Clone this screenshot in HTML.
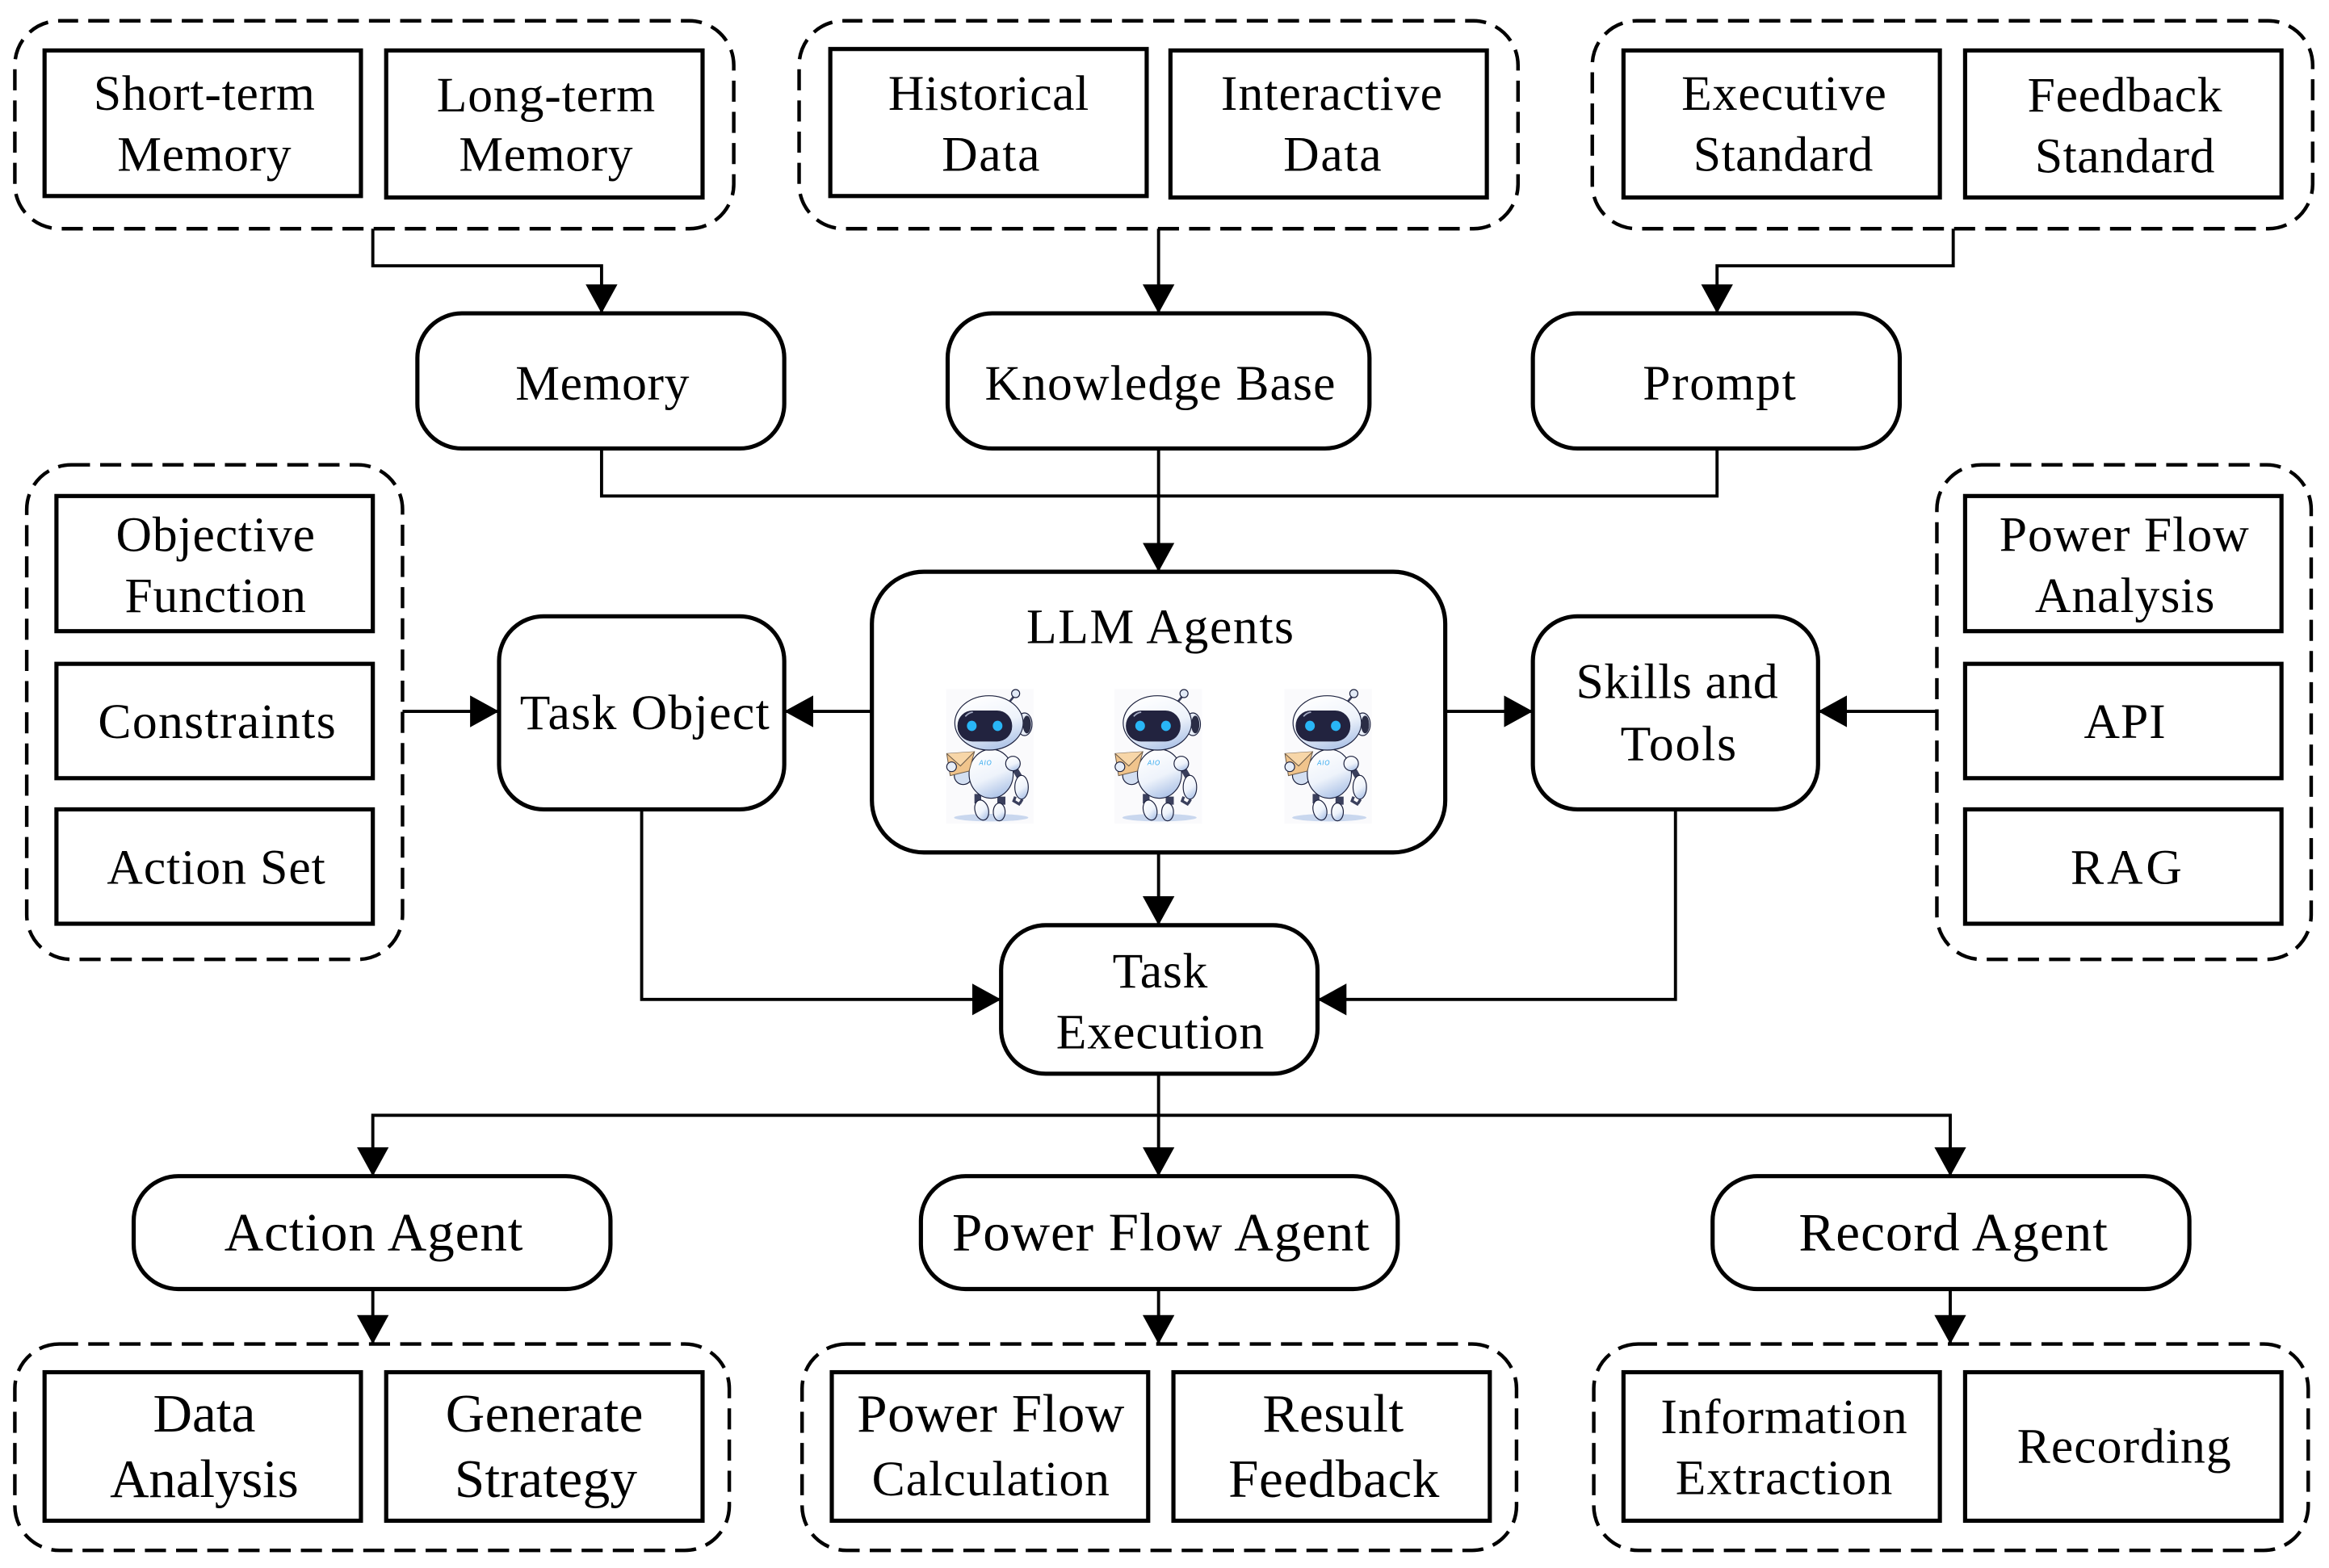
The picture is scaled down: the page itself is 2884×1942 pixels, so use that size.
<!DOCTYPE html>
<html lang="en"><head><meta charset="utf-8"><title>LLM Agents diagram</title>
<style>
html,body{margin:0;padding:0;background:#fff}
svg{display:block}
text{font-family:"Liberation Serif",serif;fill:#000;font-size:33.5px}
.b text,text.b{font-size:36.5px}
.box{fill:#fff;stroke:#000;stroke-width:2.8}
.dash{fill:none;stroke:#000;stroke-width:2.4;stroke-dasharray:14.2 6.8;stroke-dashoffset:1.6}
.ln{fill:none;stroke:#000;stroke-width:2.1}
.k{stroke:#1a1f3c;stroke-width:3.5}
.aio{font:italic 24px "Liberation Sans",sans-serif;fill:#2aa5ee}
</style></head><body>
<svg xmlns="http://www.w3.org/2000/svg" width="2884" height="1942" viewBox="0 0 2884 1942">
<defs>
<marker id="a" markerUnits="userSpaceOnUse" markerWidth="22" markerHeight="22" refX="19.5" refY="10.7" orient="auto"><path d="M0 0L19.5 10.7L0 21.4z" fill="#000"/></marker>
<linearGradient id="g" x1="0.3" y1="0" x2="0.7" y2="1"><stop offset="0" stop-color="#fff"/><stop offset=".55" stop-color="#eef3fb"/><stop offset="1" stop-color="#a9c0e6"/></linearGradient>
<g id="robot">
<rect x="65" y="40" width="325" height="500" fill="#fafafc"/>
<ellipse cx="232" cy="518" rx="138" ry="14" fill="#c9d7ee"/>
<path d="M298 90L318 66" stroke="#3a3f5c" stroke-width="8"/>
<circle cx="323" cy="57" r="15" fill="#e2eaf6" class="k"/>
<ellipse cx="128" cy="362" rx="33" ry="33" fill="#d3dff2" class="k"/>
<path d="M170 430h25v35h-25zM255 440h30v30h-30z" fill="#3a3f5c"/>
<ellipse cx="197" cy="490" rx="25" ry="38" transform="rotate(-15 197 490)" fill="url(#g)" class="k"/>
<ellipse cx="262" cy="497" rx="22" ry="33" fill="url(#g)" class="k"/>
<path d="M322 340L345 380" stroke="#3a3f5c" stroke-width="22"/>
<ellipse cx="345" cy="405" rx="25" ry="44" fill="url(#g)" class="k"/>
<path d="M322 440L316 456L340 470M348 450L338 466" stroke="#3a3f5c" stroke-width="10" fill="none"/>
<rect x="208" y="258" width="40" height="22" rx="6" fill="#2a2d45"/>
<ellipse cx="232" cy="355" rx="82" ry="91" fill="url(#g)" class="k"/>
<path d="M67 280L170 273L150 345L80 362z" fill="#f0c48c" stroke="#6b5a48" stroke-width="3"/>
<path d="M67 280L118 326L170 273" fill="#f7d6a8" stroke="#6b5a48" stroke-width="3"/>
<circle cx="85" cy="329" r="18" fill="#e6edf8" class="k"/>
<circle cx="313" cy="317" r="27" fill="url(#g)" class="k"/>
<ellipse cx="356" cy="171" rx="28" ry="42" fill="#e8eef8" class="k"/>
<ellipse cx="224" cy="166" rx="127" ry="101" fill="url(#g)" class="k"/>
<ellipse cx="365" cy="172" rx="15" ry="33" fill="#2a2d45"/>
<rect x="107" y="120" width="203" height="115" rx="56" fill="#22233f"/>
<ellipse cx="160" cy="177" rx="18" ry="19" fill="#29b6f6"/>
<ellipse cx="256" cy="177" rx="18" ry="19" fill="#29b6f6"/>
<path d="M136 142Q148 128 164 126" stroke="#aab0c8" stroke-width="5" fill="none"/>
</g>
</defs>
<rect width="2884" height="1942" fill="#fff"/>
<g transform="scale(1.8393)">
<!-- connectors -->
<g class="ln">
<path d="M251 154V179H405V211" marker-end="url(#a)"/>
<path d="M780 154V211" marker-end="url(#a)"/>
<path d="M1315 154V179H1156V211" marker-end="url(#a)"/>
<path d="M405 302V334H1156V302"/>
<path d="M780 302V385" marker-end="url(#a)"/>
<path d="M271 479H336" marker-end="url(#a)"/>
<path d="M587 479H528" marker-end="url(#a)"/>
<path d="M973 479H1032" marker-end="url(#a)"/>
<path d="M1304 479H1224" marker-end="url(#a)"/>
<path d="M432 545V673H674" marker-end="url(#a)"/>
<path d="M1128 545V673H887" marker-end="url(#a)"/>
<path d="M780 574V623" marker-end="url(#a)"/>
<path d="M780 723V792" marker-end="url(#a)"/>
<path d="M780 751H251V792" marker-end="url(#a)"/>
<path d="M780 751H1313V792" marker-end="url(#a)"/>
<path d="M251 868V905" marker-end="url(#a)"/>
<path d="M780 868V905" marker-end="url(#a)"/>
<path d="M1313 868V905" marker-end="url(#a)"/>
</g>
<!-- dashed groups -->
<rect class="dash" x="10" y="14" width="484" height="140" rx="30"/>
<rect class="dash" x="538" y="14" width="484" height="140" rx="30"/>
<rect class="dash" x="1072" y="14" width="485" height="140" rx="30"/>
<rect class="dash" x="18" y="313" width="253" height="333" rx="30"/>
<rect class="dash" x="1304" y="313" width="252" height="333" rx="30"/>
<rect class="dash" x="10" y="905" width="481" height="139" rx="30"/>
<rect class="dash" x="540" y="905" width="481" height="139" rx="30"/>
<rect class="dash" x="1073" y="905" width="481" height="139" rx="30"/>
<!-- square boxes -->
<rect class="box" x="30" y="34" width="213" height="98"/>
<rect class="box" x="260" y="34" width="213" height="99"/>
<rect class="box" x="559" y="33" width="213" height="99"/>
<rect class="box" x="788" y="34" width="213" height="99"/>
<rect class="box" x="1093" y="34" width="213" height="99"/>
<rect class="box" x="1323" y="34" width="213" height="99"/>
<rect class="box" x="38" y="334" width="213" height="91"/>
<rect class="box" x="38" y="447" width="213" height="77"/>
<rect class="box" x="38" y="545" width="213" height="77"/>
<rect class="box" x="1323" y="334" width="213" height="91"/>
<rect class="box" x="1323" y="447" width="213" height="77"/>
<rect class="box" x="1323" y="545" width="213" height="77"/>
<rect class="box" x="30" y="924" width="213" height="100"/>
<rect class="box" x="260" y="924" width="213" height="100"/>
<rect class="box" x="560" y="924" width="213" height="100"/>
<rect class="box" x="790" y="924" width="213" height="100"/>
<rect class="box" x="1093" y="924" width="213" height="100"/>
<rect class="box" x="1323" y="924" width="213" height="100"/>
<!-- rounded -->
<rect class="box" x="281" y="211" width="247" height="91" rx="30"/>
<rect class="box" x="638" y="211" width="284" height="91" rx="30"/>
<rect class="box" x="1032" y="211" width="247" height="91" rx="30"/>
<rect class="box" x="587" y="385" width="386" height="189" rx="35"/>
<rect class="box" x="336" y="415" width="192" height="130" rx="30"/>
<rect class="box" x="1032" y="415" width="192" height="130" rx="30"/>
<rect class="box" x="674" y="623" width="213" height="100" rx="30"/>
<rect class="box" x="90" y="792" width="321" height="76" rx="30"/>
<rect class="box" x="620" y="792" width="321" height="76" rx="30"/>
<rect class="box" x="1153" y="792" width="321" height="76" rx="30"/>
<!-- text -->
<text x="63" y="74" textLength="149">Short-term</text>
<text x="79" y="115" textLength="117">Memory</text>
<text x="294" y="75" textLength="147">Long-term</text>
<text x="309" y="115" textLength="117">Memory</text>
<text x="598" y="74" textLength="135">Historical</text>
<text x="634" y="115" textLength="66">Data</text>
<text x="822" y="74" textLength="149">Interactive</text>
<text x="864" y="115" textLength="66">Data</text>
<text x="1132" y="74" textLength="138">Executive</text>
<text x="1140" y="115" textLength="121">Standard</text>
<text x="1365" y="75" textLength="131">Feedback</text>
<text x="1370" y="116" textLength="121">Standard</text>
<text x="347" y="269" textLength="117">Memory</text>
<text x="663" y="269" textLength="236">Knowledge Base</text>
<text x="1106" y="269" textLength="103">Prompt</text>
<text x="691" y="433" textLength="180">LLM Agents</text>
<text x="78" y="371" textLength="134">Objective</text>
<text x="84" y="412" textLength="122">Function</text>
<text x="66" y="497" textLength="160">Constraints</text>
<text x="72" y="595" textLength="147">Action Set</text>
<text x="1346" y="371" textLength="168">Power Flow</text>
<text x="1370" y="412" textLength="121">Analysis</text>
<text x="1403" y="497" textLength="55">API</text>
<text x="1394" y="595" textLength="75">RAG</text>
<text x="350" y="491" textLength="168">Task Object</text>
<text x="1061" y="470" textLength="136">Skills and</text>
<text x="1091" y="512" textLength="78">Tools</text>
<text x="749" y="665" textLength="64">Task</text>
<text x="711" y="706" textLength="140">Execution</text>
<g class="b">
<text x="151" y="842" textLength="201">Action Agent</text>
<text x="641" y="842" textLength="281">Power Flow Agent</text>
<text x="1211" y="842" textLength="208">Record Agent</text>
<text x="103" y="964" textLength="69">Data</text>
<text x="74" y="1008" textLength="127">Analysis</text>
<text x="300" y="964" textLength="133">Generate</text>
<text x="306" y="1008" textLength="123">Strategy</text>
<text x="577" y="964" textLength="180">Power Flow</text>
<text x="850" y="964" textLength="95">Result</text>
<text x="827" y="1008" textLength="142">Feedback</text>
</g>
<text x="587" y="1007" textLength="160">Calculation</text>
<text x="1118" y="965" textLength="166">Information</text>
<text x="1128" y="1006" textLength="146">Extraction</text>
<text x="1358" y="985" textLength="144">Recording</text>
</g>
<!-- robots -->
<g transform="translate(1150 840) scale(.3333)">
<use href="#robot"/>
<text class="aio" x="187" y="323" textLength="46">AIO</text>
</g>
<g transform="translate(1358.5 840) scale(.3333)">
<use href="#robot"/>
<text class="aio" x="187" y="323" textLength="46">AIO</text>
</g>
<g transform="translate(1568.8 840) scale(.3333)">
<use href="#robot"/>
<text class="aio" x="187" y="323" textLength="46">AIO</text>
</g>
</svg>
</body></html>
